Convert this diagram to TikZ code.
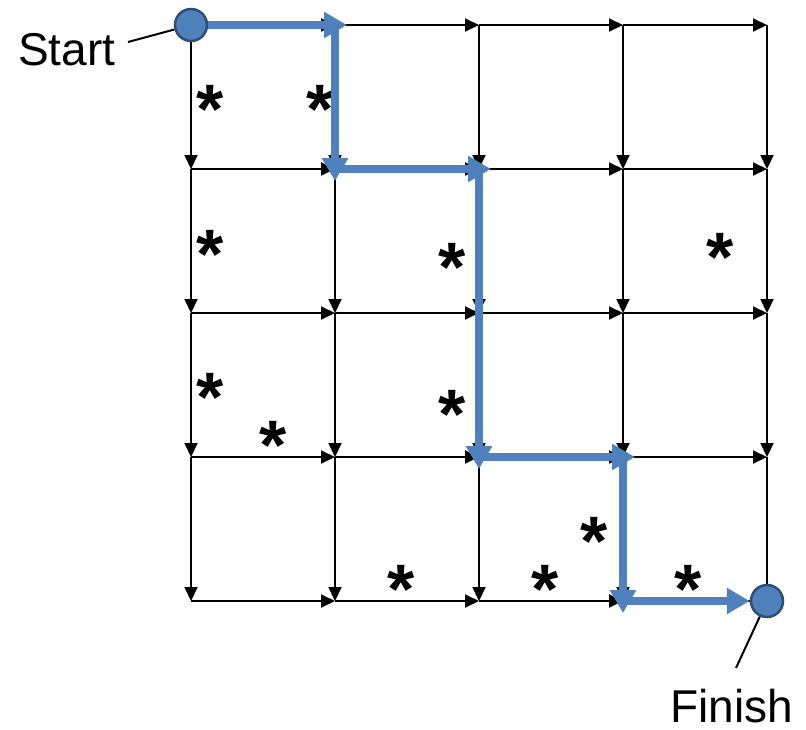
\documentclass[tikz,border=0pt]{standalone}
\usepackage{fontspec}
\setmainfont{Liberation Sans}
\usetikzlibrary{arrows.meta}
\definecolor{pathblue}{HTML}{4F81BD}
\definecolor{rimblue}{HTML}{2E4F78}
\tikzset{
  gridarrow/.style={draw=black, line width=2pt, -{Triangle[length=14pt,width=13pt]}},
  patharrow/.style={draw=pathblue, line width=7.5pt, -{Triangle[length=23pt,width=25pt]}, shorten >=-12pt},
  endpath/.style={draw=pathblue, line width=7.5pt, -{Triangle[length=23pt,width=25pt]}},
  dot/.style={circle, fill=pathblue, draw=rimblue, line width=2.5pt, minimum size=32pt, inner sep=0pt},
  lbl/.style={font=\fontsize{46}{55}\selectfont, inner sep=0pt},
  starmark/.style={font=\bfseries\fontsize{70}{80}\selectfont, inner sep=0pt, anchor=base},
  leader/.style={draw=black, line width=2pt}
}
\begin{document}
\begin{tikzpicture}[x=1pt,y=-1pt]
\useasboundingbox (0,0) rectangle (806,729);
% grid coordinates
\foreach \i/\x in {0/191,1/335,2/479,3/623,4/767}{
  \foreach \j/\y in {0/25,1/169,2/313,3/457,4/601}{
    \coordinate (n\i\j) at (\x,\y);
  }
}
% horizontal arrows
\foreach \j in {0,...,4}{
  \foreach \i/\k in {0/1,1/2,2/3,3/4}{
    \draw[gridarrow] (n\i\j) -- (n\k\j);
  }
}
% vertical arrows
\foreach \i in {0,...,4}{
  \foreach \j/\k in {0/1,1/2,2/3,3/4}{
    \draw[gridarrow] (n\i\j) -- (n\i\k);
  }
}
% stars
\foreach \x/\y in {210/100,320/100,210/245,452/258,720/248,210/388,273/436,452/405,594/532,401/580,545/580,688/580}{
  \node[starmark] at (\x,\y+33) {*};
}
% circles
\node[dot] (start) at (n00) {};
\node[dot] (finish) at (n44) {};
% blue path
\draw[patharrow] (start) -- (n10);
\draw[patharrow] (n10) -- (n11);
\draw[patharrow] (n11) -- (n21);
\draw[patharrow] (n21) -- (n23);
\draw[patharrow] (n23) -- (n33);
\draw[patharrow] (n33) -- (n34);
\draw[endpath] (n34) -- (finish);
% labels
\node[lbl, anchor=base west] (startlbl) at (18,65) {Start};
\node[lbl, anchor=base west] (finishlbl) at (670,722) {Finish};
\coordinate (sl) at (128,42);
\coordinate (fl) at (736,668);
\draw[leader] (sl) -- (start);
\draw[leader] (fl) -- (finish);
\end{tikzpicture}
\end{document}
